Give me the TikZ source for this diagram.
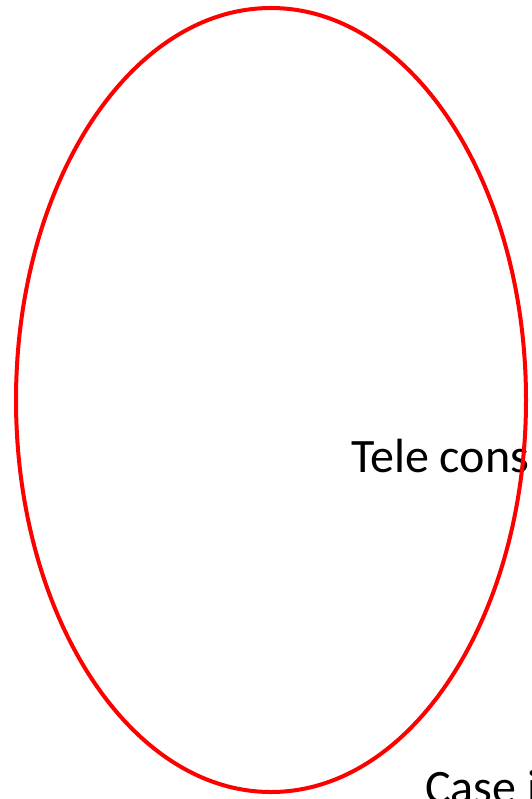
\documentclass[tikz,border=0pt]{standalone}
\usepackage{fontspec}
\setmainfont{Carlito}
\begin{document}
\begin{tikzpicture}[x=1pt,y=-1pt]
	\useasboundingbox (0,0) rectangle (531,799);
	\clip (0,0) rectangle (531,799);
	% Chữ
	\node[anchor=base west,inner sep=0pt,font=\fontsize{48}{56}\selectfont] (tele) at (351,472) {Tele cons};
	\node[anchor=base west,inner sep=0pt,font=\fontsize{48}{56}\selectfont] (casei) at (425,803) {Case i};
	% Vòng elip
	\draw[red,line width=4pt] (271,400) ellipse (255 and 392);
\end{tikzpicture}
\end{document}
